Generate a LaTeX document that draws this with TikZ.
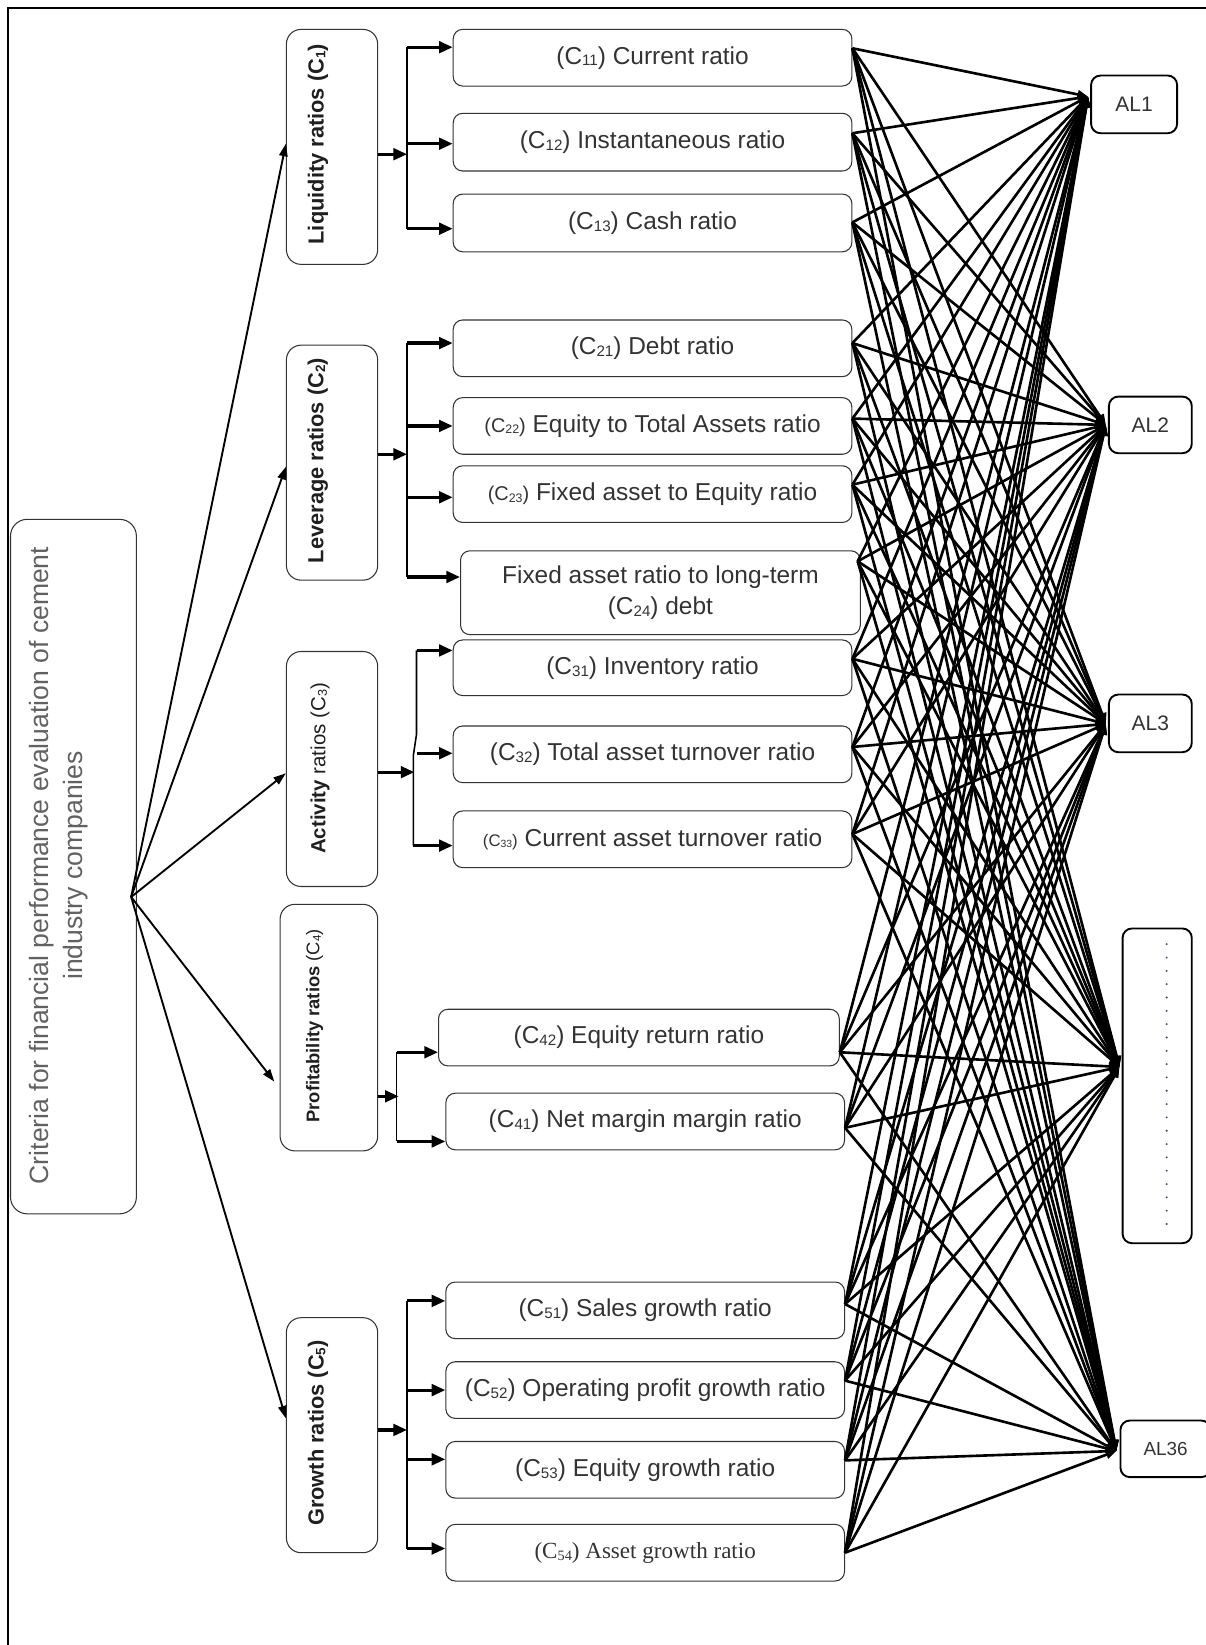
\documentclass[tikz,border=0pt]{standalone}
\usepackage{fontspec}
\setmainfont{Liberation Sans}
\newfontfamily\serifx{Liberation Serif}
\usepackage{graphicx}
\usetikzlibrary{arrows.meta}
\newcommand\sbs[1]{\raisebox{-0.08em}{\scalebox{0.62}{#1}}}
\definecolor{txt}{gray}{0.2}
\definecolor{maintxt}{gray}{0.38}
\definecolor{dotc}{rgb}{0.3,0.33,0.5}
\tikzset{
  cbox/.style={draw=black!80, line width=1pt, rounded corners=9pt, minimum width=380pt, minimum height=54pt,
    inner sep=0pt, text=txt, font=\fontsize{23.3}{29}\selectfont, align=center},
  catbox/.style={draw=black!80, line width=1pt, rounded corners=14pt, minimum width=87pt, minimum height=224pt, inner sep=0pt},
  cattext/.style={rotate=90, text=black!88, inner sep=0pt},
  mainbox/.style={draw=black!80, line width=1pt, rounded corners=16pt, minimum width=120pt, minimum height=662pt, inner sep=0pt},
  albox/.style={draw=black, line width=1.8pt, rounded corners=9pt, inner sep=0pt, text=txt, font=\fontsize{20}{24}\selectfont},
  fanarrow/.style={line width=1.8pt, -{Triangle[length=12pt,width=8pt]}},
  barrow/.style={line width=3pt, -{Triangle[length=13pt,width=11pt]}},
  trunk/.style={line width=1.5pt},
  web/.style={line width=2.5pt, -{Triangle[length=10pt,width=8pt]}}
}
\begin{document}
\begin{tikzpicture}[x=1pt,y=-1pt]
\useasboundingbox (0,0) rectangle (1149,1568);
% frame
\draw[line width=2pt] (8,1572) -- (8,8) -- (1153,8);

% main node
\node[mainbox] (main) at (70,826) {};
\node[rotate=90, align=center, font=\fontsize{25.3}{32}\selectfont, text=maintxt, inner sep=0pt] (maint) at (56,825)
  {Criteria for financial performance evaluation of cement\\industry companies};

% category boxes
\node[catbox] (liq) at (316.5,140) {};
\node[cattext, font=\bfseries\fontsize{20.8}{24}\selectfont] (liqt) at (303,137.5) {Liquidity ratios (C\sbs{1})};
\node[catbox] (lev) at (316.5,441) {};
\node[cattext, font=\bfseries\fontsize{20.8}{24}\selectfont] (levt) at (303,439) {Leverage ratios (C\sbs{2})};
\node[catbox] (act) at (316.5,733) {};
\node[cattext, font=\fontsize{19.5}{24}\selectfont] (actt) at (305,732.5) {\textbf{Activity} ratios (C\sbs{3})};
\node[catbox, minimum width=93pt, minimum height=235pt] (prof) at (313.5,979.5) {};
\node[cattext, font=\fontsize{17.5}{20}\selectfont] (proft) at (300,978) {\textbf{Profitability ratios} (C\sbs{4})};
\node[catbox] (gro) at (316.5,1368) {};
\node[cattext, font=\bfseries\fontsize{20.8}{24}\selectfont] (grot) at (303,1366) {Growth ratios (C\sbs{5})};

% sub-criteria boxes
\node[cbox] (c11) at (622,55) {(C\sbs{11}) Current ratio};
\node[cbox, minimum height=55pt] (c12) at (622,135.5) {(C\sbs{12}) Instantaneous ratio};
\node[cbox, minimum height=55pt] (c13) at (622,212.5) {(C\sbs{13}) Cash ratio};
\node[cbox] (c21) at (622,332) {(C\sbs{21}) Debt ratio};
\node[cbox] (c22) at (622,406) {{\fontsize{19}{22}\selectfont(C\sbs{22})} Equity to Total Assets ratio};
\node[cbox] (c23) at (622,471) {{\fontsize{19}{22}\selectfont(C\sbs{23})} Fixed asset to Equity ratio};
\node[cbox, minimum width=381pt, minimum height=80pt] (c24) at (629.5,565) {Fixed asset ratio to long-term\\(C\sbs{24}) debt};
\node[cbox, minimum height=53pt] (c31) at (622,636.5) {(C\sbs{31}) Inventory ratio};
\node[cbox] (c32) at (622,719) {(C\sbs{32}) Total asset turnover ratio};
\node[cbox] (c33) at (622,800) {{\fontsize{16}{20}\selectfont(C\sbs{33})} Current asset turnover ratio};
\node[cbox, minimum width=382pt] (c42) at (609,989) {(C\sbs{42}) Equity return ratio};
\node[cbox] (c41) at (615,1069) {(C\sbs{41}) Net margin margin ratio};
\node[cbox] (c51) at (615,1249) {(C\sbs{51}) Sales growth ratio};
\node[cbox] (c52) at (615,1325) {(C\sbs{52}) Operating profit growth ratio};
\node[cbox] (c53) at (615,1401) {(C\sbs{53}) Equity growth ratio};
\node[cbox, font=\serifx\fontsize{22}{28}\selectfont] (c54) at (615,1480) {(C\sbs{54}) Asset growth ratio};

% alternatives
\node[albox, minimum width=82pt, minimum height=55pt] (al1) at (1081,99.5) {AL1};
\node[albox, minimum width=79pt, minimum height=54pt] (al2) at (1096.5,405) {AL2};
\node[albox, minimum width=79pt, minimum height=55pt] (al3) at (1096.5,689.5) {AL3};
\node[albox, minimum width=66pt, minimum height=300pt] (aldots) at (1103,1035) {};
\node[albox, minimum width=86pt, minimum height=54pt, font=\fontsize{18}{22}\selectfont] (al36) at (1111,1381) {AL36};
\draw[dotc, line width=2.2pt, line cap=round, dash pattern=on 0pt off 12.7pt] (1112,900) -- (1112,1168);

% fan from main node
\coordinate (fan) at (125,855);
\draw[fanarrow] (fan) -- (liq.west |- 0,137);
\draw[fanarrow] (fan) -- (lev.west |- 0,445);
\draw[fanarrow] (fan) -- (act.west |- 0,737);
\draw[fanarrow] (fan) -- ([xshift=-5pt]prof.west |- 0,1031);
\draw[fanarrow] (fan) -- (gro.west |- 0,1352);

% liquidity branches
\coordinate (jl) at (388,147);
\draw[barrow] (liq.east |- jl) -- (jl);
\draw[trunk] (388,45) -- (388,218);
\draw[barrow] (388,45) -- (c11.west |- 0,45);
\draw[barrow] (388,137) -- (c12.west |- 0,137);
\draw[barrow] (388,218) -- (c13.west |- 0,218);

% leverage branches
\coordinate (jv) at (388,433);
\draw[barrow] (lev.east |- jv) -- (jv);
\draw[trunk] (388,327) -- (388,550);
\draw[barrow] (388,327) -- (c21.west |- 0,327);
\draw[barrow] (388,406) -- (c22.west |- 0,406);
\draw[barrow] (388,474) -- (c23.west |- 0,474);
\draw[barrow] (388,550) -- (c24.west |- 0,550);

% activity branches
\coordinate (ja) at (395,736);
\draw[barrow] (act.east |- ja) -- (ja);
\draw[trunk] (397,620) -- (397,700) -- (394,720) -- (394,806);
\draw[barrow] (397,620) -- (c31.west |- 0,620);
\draw[barrow] (397,718) -- (c32.west |- 0,718);
\draw[barrow] (394,806) -- (c33.west |- 0,806);

% profitability branches
\coordinate (jp) at (380,1045);
\draw[barrow] (prof.east |- jp) -- (jp);
\draw[trunk] (378,1003) -- (378,1088);
\draw[barrow] (378,1003) -- (c42.west |- 0,1003);
\draw[barrow] (378,1088) -- (c41.west |- 0,1088);

% growth branches
\coordinate (jg) at (388,1363);
\draw[barrow] (gro.east |- jg) -- (jg);
\draw[trunk] (388,1240) -- (388,1476);
\draw[barrow] (388,1240) -- (c51.west |- 0,1240);
\draw[barrow] (388,1325) -- (c52.west |- 0,1325);
\draw[barrow] (388,1391) -- (c53.west |- 0,1391);
\draw[barrow] (388,1476) -- (c54.west |- 0,1476);

% sources
\coordinate (s11) at (c11.east |- 0,46);
\coordinate (s12) at (c12.east |- 0,127);
\coordinate (s13) at (c13.east |- 0,212);
\coordinate (s21) at (c21.east |- 0,327);
\coordinate (s22) at (c22.east |- 0,399);
\coordinate (s23) at (c23.east |- 0,462);
\coordinate (s24) at ([xshift=-3pt]c24.east |- 0,535);
\coordinate (s31) at (c31.east |- 0,628);
\coordinate (s32) at (c32.east |- 0,712);
\coordinate (s33) at (c33.east |- 0,795);
\coordinate (s42) at (c42.east |- 0,1003);
\coordinate (s41) at (c41.east |- 0,1075);
\coordinate (s51) at (c51.east |- 0,1243);
\coordinate (s52) at (c52.east |- 0,1316);
\coordinate (s53) at (c53.east |- 0,1392);
\coordinate (s54) at (c54.east |- 0,1480);
% targets
\coordinate (t1) at ([xshift=-2pt]al1.west |- 0,92);
\coordinate (t2) at ([xshift=-2pt]al2.west |- 0,405);
\coordinate (t3) at ([xshift=-2pt]al3.west |- 0,690);
\coordinate (t4) at ([xshift=-2pt]aldots.west |- 0,1017);
\coordinate (t5) at ([xshift=-3pt]al36.west |- 0,1383);

\foreach \s in {s11,s12,s13,s21,s22,s23,s24,s31,s32,s33,s42,s41,s51,s52,s53,s54}
  \foreach \t in {t1,t2,t3,t4,t5}
    \draw[web] (\s) -- (\t);
\end{tikzpicture}
\end{document}
